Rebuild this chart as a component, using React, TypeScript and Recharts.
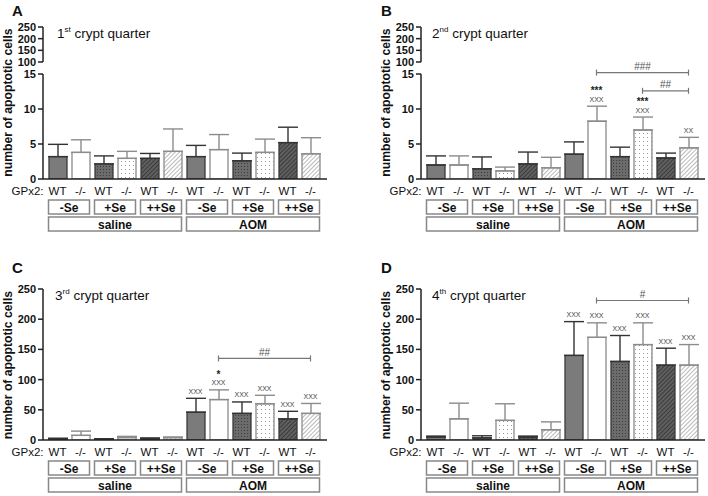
import React from 'react';
import { Bar, BarChart, Cell, ErrorBar, ReferenceDot, ReferenceLine, XAxis, YAxis } from 'recharts';

const FONT = 'Arial, "Liberation Sans", Helvetica, sans-serif';

const treatments = ['saline', 'AOM'];
const diets = ['-Se', '+Se', '++Se'];
const genotypes = ['WT', '-/-'];
const categories = treatments.flatMap((t) => diets.flatMap((d) => genotypes.map((g) => `${t} ${d} ${g}`)));

// panel A: 1st crypt quarter
const valuesA = [3.2, 3.8, 2.15, 2.95, 2.95, 3.95, 3.2, 4.2, 2.6, 3.8, 5.2, 3.6];
const errorsA = [1.75, 1.8, 1.15, 1.0, 0.7, 3.2, 1.6, 2.15, 1.1, 1.9, 2.2, 2.3];

// panel B: 2nd crypt quarter
const valuesB = [2.0, 2.0, 1.45, 1.15, 2.15, 1.6, 3.55, 8.25, 3.2, 7.0, 3.0, 4.45];
const errorsB = [1.3, 1.3, 1.7, 0.55, 1.7, 1.5, 1.75, 2.15, 1.35, 1.85, 0.7, 1.5];
const starsB = ['', '', '', '', '', '', '', '***', '', '***', '', ''];
const crossesB = ['', '', '', '', '', '', '', 'XXX', '', 'XXX', '', 'XX'];
const bracketsB = [
  { from: 7, to: 11, level: 15.2, label: '###' },
  { from: 9, to: 11, level: 12.6, label: '##' },
];

// panel C: 3rd crypt quarter
const valuesC = [2, 7.7, 1.5, 4, 2, 4, 46, 67, 44, 60, 35, 44];
const errorsC = [1, 7, 0.5, 2, 1.5, 1, 23, 16, 19, 14, 12.5, 16.5];
const starsC = ['', '', '', '', '', '', '', '*', '', '', '', ''];
const crossesC = ['', '', '', '', '', '', 'XXX', 'XXX', 'XXX', 'XXX', 'XXX', 'XXX'];
const bracketsC = [{ from: 7, to: 11, level: 135, label: '##' }];

// panel D: 4th crypt quarter
const valuesD = [5, 35, 3.5, 32.5, 5, 17, 140, 170, 130, 158, 124, 124];
const errorsD = [1.5, 26, 3.5, 27.5, 1.5, 13, 56, 24, 43, 36, 28, 34];
const starsD = ['', '', '', '', '', '', '', '', '', '', '', ''];
const crossesD = ['', '', '', '', '', '', 'XXX', 'XXX', 'XXX', 'XXX', 'XXX', 'XXX'];
const bracketsD = [{ from: 7, to: 11, level: 231, label: '#' }];

const noMarks = ['', '', '', '', '', '', '', '', '', '', '', ''];

// layout
const CHART_W = 330;
const Y_W = 43;
const BAND = 23;
const HALF_BAR = 9;
const FILLS = ['#7b7b7b', '#ffffff', 'url(#dotDark)', 'url(#dotLight)', 'url(#hatchDark)', 'url(#hatchLight)'];
const STROKES = ['#3a3a3a', '#8c8c8c'];

const axisStyle = { stroke: '#222', strokeWidth: 1.5 };
const yTick = { fontSize: 11, fontWeight: 'bold', fill: '#111', fontFamily: FONT };

const buildRows = (values: number[], errors: number[]) =>
  categories.map((cat, i) => ({
    cat,
    value: values[i],
    errWT: i % 2 === 0 ? [0, errors[i]] : undefined,
    errKO: i % 2 === 1 ? [0, errors[i]] : undefined,
  }));

const XTick = (props: any) => {
  const { x, y, index } = props;
  const boxW = BAND + 2 * HALF_BAR;
  const groupW = 5 * BAND + 2 * HALF_BAR;
  return (
    <g fontFamily={FONT}>
      {index === 0 && (
        <text x={x - 14} y={y + 16} textAnchor="end" fontSize={11.5} fill="#111">
          GPx2:
        </text>
      )}
      <text x={x} y={y + 16} textAnchor="middle" fontSize={11.5} fill="#111">
        {genotypes[index % 2]}
      </text>
      {index % 2 === 0 && (
        <g>
          <rect x={x - HALF_BAR} y={y + 21} width={boxW} height={14} fill="#fff" stroke="#888" strokeWidth={1.5} />
          <text x={x - HALF_BAR + boxW / 2} y={y + 32.5} textAnchor="middle" fontSize={12} fontWeight="bold" fill="#111">
            {diets[Math.floor(index / 2) % 3]}
          </text>
        </g>
      )}
      {index % 6 === 0 && (
        <g>
          <rect x={x - HALF_BAR} y={y + 38} width={groupW} height={14} fill="#fff" stroke="#888" strokeWidth={1.5} />
          <text x={x - HALF_BAR + groupW / 2} y={y + 49.5} textAnchor="middle" fontSize={12} fontWeight="bold" fill="#111">
            {treatments[index / 6]}
          </text>
        </g>
      )}
    </g>
  );
};

const bracketShape = (label: string) => (p: any) => {
  const { x1, y1, x2, y2 } = p;
  return (
    <g>
      <line x1={x1} y1={y1} x2={x2} y2={y2} stroke="#777" strokeWidth={1.2} />
      <line x1={x1} y1={y1 - 3} x2={x1} y2={y1 + 3} stroke="#777" strokeWidth={1.2} />
      <line x1={x2} y1={y2 - 3} x2={x2} y2={y2 + 3} stroke="#777" strokeWidth={1.2} />
      <text x={(x1 + x2) / 2} y={y1 - 2.5} textAnchor="middle" fontSize={10} fill="#555" fontFamily={FONT}>
        {label}
      </text>
    </g>
  );
};

const sigLabel = (star: string, cross: string) => (p: any) => {
  const vb = p.viewBox || {};
  const cx = vb.x + (vb.width || 0) / 2;
  const cy = vb.y + (vb.height || 0) / 2;
  return (
    <g fontFamily={FONT}>
      {cross && (
        <text x={cx} y={cy - 4.5} textAnchor="middle" fontSize={7} fill="#444">
          {cross}
        </text>
      )}
      {star && (
        <text x={cx} y={cy - (cross ? 12 : 4)} textAnchor="middle" fontSize={10} fontWeight="bold" fill="#222">
          {star}
        </text>
      )}
    </g>
  );
};

type PanelProps = {
  left: number;
  top: number;
  height: number;
  marginTop: number;
  domain: [number, number];
  ticks: number[];
  values: number[];
  errors: number[];
  stars: string[];
  crosses: string[];
  brackets: { from: number; to: number; level: number; label: string }[];
  broken?: boolean;
};

const Panel = ({ left, top, height, marginTop, domain, ticks, values, errors, stars, crosses, brackets, broken }: PanelProps) => {
  const rows = buildRows(values, errors);
  return (
    <>
      {broken && (
        <div style={{ position: 'absolute', left, top }}>
          <BarChart width={CHART_W} height={70} data={rows} margin={{ top: 27, right: 3, bottom: 8, left: 0 }}>
            <XAxis dataKey="cat" hide />
            <YAxis
              domain={[100, 250]}
              ticks={[100, 150, 200, 250]}
              width={Y_W}
              tick={yTick}
              tickSize={5}
              tickMargin={2}
              axisLine={axisStyle}
              tickLine={axisStyle}
              interval={0}
              allowDataOverflow
            />
            <Bar dataKey="value" fill="none" stroke="none" isAnimationActive={false} />
          </BarChart>
        </div>
      )}
      <div style={{ position: 'absolute', left, top }}>
        <BarChart
          width={CHART_W}
          height={height}
          data={rows}
          barSize={18}
          margin={{ top: marginTop, right: 3, bottom: height - marginTop - 55 - (broken ? 105 : 151), left: 0 }}
        >
          <XAxis
            dataKey="cat"
            interval={0}
            height={55}
            padding={{ left: 3, right: 5 }}
            tick={(p: any) => <XTick {...p} />}
            tickLine={false}
            tickSize={0}
            tickMargin={0}
            axisLine={axisStyle}
          />
          <YAxis
            domain={domain}
            ticks={ticks}
            width={Y_W}
            tick={yTick}
            tickSize={5}
            tickMargin={2}
            axisLine={axisStyle}
            tickLine={axisStyle}
            interval={0}
            allowDataOverflow
          />
          <Bar dataKey="value" isAnimationActive={false} strokeWidth={1.3}>
            {rows.map((r, i) => (
              <Cell key={r.cat} fill={FILLS[i % 6]} stroke={STROKES[i % 2]} />
            ))}
            <ErrorBar dataKey="errWT" direction="y" width={10} stroke="#333" strokeWidth={1.4} isAnimationActive={false} />
            <ErrorBar dataKey="errKO" direction="y" width={10} stroke="#8c8c8c" strokeWidth={1.4} isAnimationActive={false} />
          </Bar>
          {brackets.map((b) => (
            <ReferenceLine
              key={b.label + b.from}
              segment={[
                { x: categories[b.from], y: b.level },
                { x: categories[b.to], y: b.level },
              ]}
              ifOverflow="visible"
              shape={bracketShape(b.label)}
            />
          ))}
          {categories.map((cat, i) =>
            stars[i] || crosses[i] ? (
              <ReferenceDot
                key={cat}
                x={cat}
                y={values[i] + errors[i]}
                r={0}
                fill="none"
                stroke="none"
                ifOverflow="visible"
                label={{ content: sigLabel(stars[i], crosses[i]) }}
              />
            ) : null,
          )}
        </BarChart>
      </div>
    </>
  );
};

const Title = ({ x, y, num, sup }: { x: number; y: number; num: string; sup: string }) => (
  <text x={x} y={y} fontSize={13.5} fill="#111" fontFamily={FONT}>
    {num}
    <tspan fontSize={8} dy={-6}>
      {sup}
    </tspan>
    <tspan dy={6}> crypt quarter</tspan>
  </text>
);

const YLabel = ({ x, y }: { x: number; y: number }) => (
  <text
    x={x}
    y={y}
    transform={`rotate(-90 ${x} ${y})`}
    textAnchor="middle"
    dominantBaseline="central"
    fontSize={12.2}
    fontWeight="bold"
    fill="#111"
    fontFamily={FONT}
  >
    number of apoptotic cells
  </text>
);

export default function App() {
  return (
    <div style={{ position: 'absolute', left: 0, top: 0, width: 708, height: 496, background: '#fff', fontFamily: FONT }}>
      <svg width={0} height={0} style={{ position: 'absolute' }}>
        <defs>
          <pattern id="dotDark" width="3" height="3" patternUnits="userSpaceOnUse">
            <rect width="3" height="3" fill="#6c6c6c" />
            <rect x="1" y="1" width="1" height="1" fill="#3c3c3c" />
          </pattern>
          <pattern id="dotLight" width="4" height="4" patternUnits="userSpaceOnUse">
            <rect width="4" height="4" fill="#ffffff" />
            <rect x="1" y="1" width="1" height="1" fill="#9a9a9a" />
          </pattern>
          <pattern id="hatchDark" width="3" height="3" patternUnits="userSpaceOnUse" patternTransform="rotate(45)">
            <rect width="3" height="3" fill="#606060" />
            <line x1="0" y1="0" x2="0" y2="3" stroke="#2a2a2a" strokeWidth="1.4" />
          </pattern>
          <pattern id="hatchLight" width="3" height="3" patternUnits="userSpaceOnUse" patternTransform="rotate(45)">
            <rect width="3" height="3" fill="#ffffff" />
            <line x1="0" y1="0" x2="0" y2="3" stroke="#8a8a8a" strokeWidth="1.2" />
          </pattern>
        </defs>
      </svg>

      <Panel left={0} top={0} height={240} marginTop={74} domain={[0, 15]} ticks={[0, 5, 10, 15]}
        values={valuesA} errors={errorsA} stars={noMarks} crosses={noMarks} brackets={[]} broken />
      <Panel left={378} top={0} height={240} marginTop={74} domain={[0, 15]} ticks={[0, 5, 10, 15]}
        values={valuesB} errors={errorsB} stars={starsB} crosses={crossesB} brackets={bracketsB} broken />
      <Panel left={0} top={240} height={256} marginTop={49} domain={[0, 250]} ticks={[0, 50, 100, 150, 200, 250]}
        values={valuesC} errors={errorsC} stars={starsC} crosses={crossesC} brackets={bracketsC} />
      <Panel left={378} top={240} height={256} marginTop={49} domain={[0, 250]} ticks={[0, 50, 100, 150, 200, 250]}
        values={valuesD} errors={errorsD} stars={starsD} crosses={crossesD} brackets={bracketsD} />

      <svg width={708} height={496} style={{ position: 'absolute', left: 0, top: 0, pointerEvents: 'none' }}>
        <g fontFamily={FONT} fontWeight="bold" fontSize={15} fill="#111">
          <text x={12} y={15.5}>A</text>
          <text x={381} y={15.5}>B</text>
          <text x={12} y={273}>C</text>
          <text x={381} y={273}>D</text>
        </g>
        <Title x={57} y={37.5} num="1" sup="st" />
        <Title x={432} y={37.5} num="2" sup="nd" />
        <Title x={55} y={299.5} num="3" sup="rd" />
        <Title x={432} y={299.5} num="4" sup="th" />
        <YLabel x={8} y={102.5} />
        <YLabel x={386} y={102.5} />
        <YLabel x={8} y={365} />
        <YLabel x={386} y={365} />
      </svg>
    </div>
  );
}
